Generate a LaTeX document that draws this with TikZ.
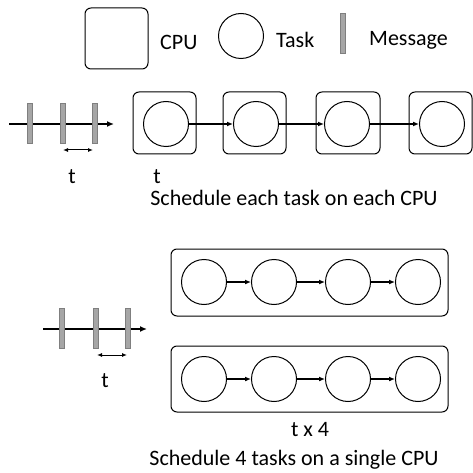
\documentclass[tikz,border=0pt]{standalone}
\usepackage{fontspec}
\setmainfont{Carlito}
\usetikzlibrary{arrows.meta}
\definecolor{barfill}{HTML}{A6A6A6}
\definecolor{barline}{HTML}{7F7F7F}
\begin{document}
\begin{tikzpicture}[x=1pt,y=-1pt,
  cpubox/.style={draw, line width=1pt, rounded corners=6pt},
  task/.style={draw, circle, line width=1pt, minimum size=45pt, inner sep=0pt},
  msg/.style={draw=barline, fill=barfill, line width=0.6pt, minimum width=5pt, minimum height=40pt, inner sep=0pt},
  flow/.style={-{Latex[length=6pt,width=5pt]}, line width=1.2pt},
  axis/.style={-{Latex[length=7pt,width=6pt]}, line width=1.5pt},
  span/.style={{Latex[length=5pt,width=4pt]}-{Latex[length=5pt,width=4pt]}, line width=1pt},
  lbl/.style={font=\fontsize{22}{26}\selectfont, inner sep=0pt}]
\useasboundingbox (0,0) rectangle (472,473);
% legend
\node[cpubox, minimum width=63pt, minimum height=61pt] (lcpu) at (116.5,38.5) {};
\node[lbl, anchor=west] (lcput) at (160,42) {CPU};
\node[task] (ltask) at (241,36) {};
\node[lbl, anchor=west] (ltaskt) at (276,40) {Task};
\node[msg] (lmsg) at (342.5,33) {};
\node[lbl, anchor=west] (lmsgt) at (369,40) {Message};
% row 1 timeline
\coordinate (a1s) at (9,124);
\coordinate (a1e) at (114,124);
\draw[axis] (a1s) -- (a1e);
\node[msg] (m11) at (29.5,123) {};
\node[msg] (m12) at (62.5,123) {};
\node[msg] (m13) at (94.5,123) {};
\coordinate (d1a) at (63,150);
\coordinate (d1b) at (93,150);
\draw[span] (d1a) -- (d1b);
\node[lbl] (t1) at (72,177) {t};
% row 1 CPUs
\node[cpubox, minimum width=63pt, minimum height=62pt] (c1) at (164.5,123) {};
\node[cpubox, minimum width=63pt, minimum height=62pt] (c2) at (254.5,123) {};
\node[cpubox, minimum width=64pt, minimum height=62pt] (c3) at (348,123) {};
\node[cpubox, minimum width=63pt, minimum height=62pt] (c4) at (440.5,123) {};
\node[task] (k1) at (166,124) {};
\node[task] (k2) at (256,124) {};
\node[task] (k3) at (347,124) {};
\node[task] (k4) at (442,124) {};
\draw[flow] (k1) -- (k2);
\draw[flow] (k2) -- (k3);
\draw[flow] (k3) -- (k4);
\node[lbl] (t2) at (157,177) {t};
\node[lbl] (cap1) at (294,198) {Schedule each task on each CPU};
% row 2 timeline
\coordinate (a2s) at (43,329);
\coordinate (a2e) at (147,329);
\draw[axis] (a2s) -- (a2e);
\node[msg] (m21) at (62,328) {};
\node[msg] (m22) at (95.5,328) {};
\node[msg] (m23) at (127.5,328) {};
\coordinate (d2a) at (97,355);
\coordinate (d2b) at (127,355);
\draw[span] (d2a) -- (d2b);
\node[lbl] (t3) at (105,381) {t};
% single CPUs
\node[cpubox, minimum width=277pt, minimum height=67pt] (s1) at (309.5,282.5) {};
\node[cpubox, minimum width=277pt, minimum height=66pt] (s2) at (309.5,379) {};
\foreach \i/\x in {1/204,2/274,3/348,4/418} {
  \node[task] (p\i) at (\x,282) {};
  \node[task] (q\i) at (\x,379) {};
}
\draw[flow] (p1) -- (p2);
\draw[flow] (p2) -- (p3);
\draw[flow] (p3) -- (p4);
\draw[flow] (q1) -- (q2);
\draw[flow] (q2) -- (q3);
\draw[flow] (q3) -- (q4);
\node[lbl] (tx4) at (310,430) {t x 4};
\node[lbl] (cap2) at (294,460) {Schedule 4 tasks on a single CPU};
\end{tikzpicture}
\end{document}
